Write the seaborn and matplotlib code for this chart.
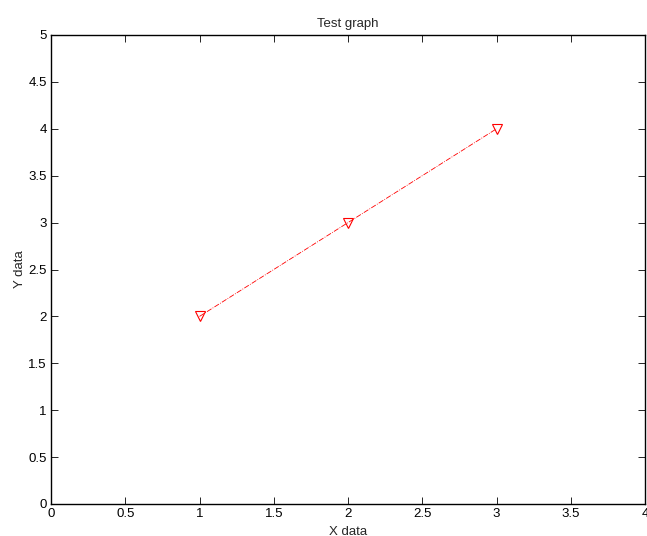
import matplotlib
matplotlib.use("Agg")
import matplotlib.pyplot as plt
import seaborn as sns
import pandas as pd

x_values = [1, 2, 3]
y_values = [2, 3, 4]
x_ticks = [0, 0.5, 1, 1.5, 2, 2.5, 3, 3.5, 4]
y_ticks = [0, 0.5, 1, 1.5, 2, 2.5, 3, 3.5, 4, 4.5, 5]
x_tick_labels = ["0", "0.5", "1", "1.5", "2", "2.5", "3", "3.5", "4"]
y_tick_labels = ["0", "0.5", "1", "1.5", "2", "2.5", "3", "3.5", "4", "4.5", "5"]

sns.set_style("ticks")
plt.rcParams["font.family"] = ["Liberation Sans", "DejaVu Sans"]

df = pd.DataFrame({"x": x_values, "y": y_values})

fig = plt.figure(figsize=(6.47, 5.36), dpi=100)
ax = fig.add_axes([51 / 647, 32 / 536, 594 / 647, 469 / 536])

sns.lineplot(data=df, x="x", y="y", ax=ax, color="red", linestyle="-.",
             linewidth=0.6, marker="v", markersize=6.5,
             markerfacecolor="none", markeredgecolor="red", markeredgewidth=0.8)

ax.set_xlim(0, 4)
ax.set_ylim(0, 5)
ax.set_xticks(x_ticks)
ax.set_xticklabels(x_tick_labels)
ax.set_yticks(y_ticks)
ax.set_yticklabels(y_tick_labels)
ax.tick_params(direction="in", top=True, right=True, length=5, width=0.6,
               labelsize=9.5, pad=3, colors="black")
for spine in ax.spines.values():
    spine.set_visible(True)
    spine.set_linewidth(1.0)
    spine.set_color("black")

ax.set_title("Test graph", fontsize=9.5, pad=6)
ax.set_xlabel("X data", fontsize=9.5, labelpad=4)
ax.set_ylabel("Y data", fontsize=9.5, labelpad=2)

fig.savefig("out.png", dpi=100)
